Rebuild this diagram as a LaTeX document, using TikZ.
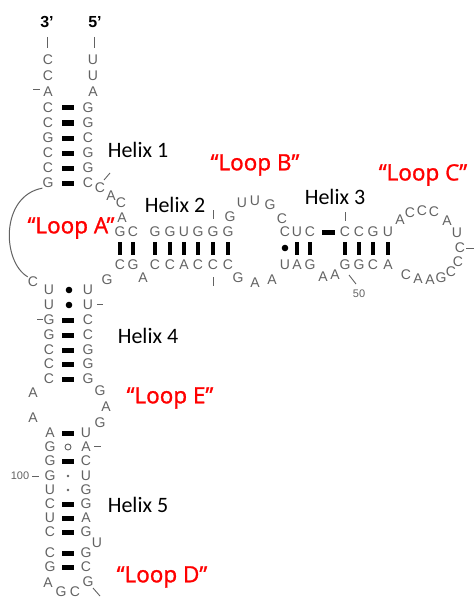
\documentclass[tikz,border=0pt]{standalone}
\usepackage{fontspec}
\setmainfont{Liberation Sans}
\newfontfamily\helixfont{Carlito}
\newfontfamily\loopfont[FakeBold=1.2]{Open Sans}
\definecolor{ntgray}{HTML}{626262}
\definecolor{loopred}{HTML}{FF0000}
\begin{document}
\begin{tikzpicture}[x=1pt,y=-1pt,
  nt/.style={font=\fontsize{14}{14}\selectfont, text=ntgray, inner sep=0pt},
  num/.style={font=\fontsize{11}{11}\selectfont, text=ntgray, inner sep=0pt},
  endlbl/.style={font=\bfseries\fontsize{16}{16}\selectfont, text=black, inner sep=0pt},
  hx/.style={font=\helixfont\fontsize{22}{22}\selectfont, text=black, inner sep=0pt},
  lp/.style={font=\loopfont\fontsize{22.5}{22.5}\selectfont, text=loopred, inner sep=0pt},
  tickln/.style={draw=ntgray, line width=0.9pt},
  hbar/.style={fill=black},
  bigdot/.style={fill=black},
  smalldot/.style={fill=ntgray},
  opendot/.style={draw=ntgray, line width=0.9pt},
  arcln/.style={draw=ntgray, line width=1pt}]
\useasboundingbox (0,0) rectangle (475,599);

% ends
\node[endlbl] (e3) at (47,22) {3'};
\node[endlbl] (e5) at (95,22) {5'};
\draw[tickln] (47,37) -- (47,48);
\draw[tickln] (94,37) -- (94,48);

% single strands at top
\node[nt] (t3a) at (48,60) {C};
\node[nt] (t3b) at (48,76) {C};
\node[nt] (t3c) at (48,92) {A};
\draw[tickln] (33,89) -- (40,89);
\node[nt] (t5a) at (93,60) {U};
\node[nt] (t5b) at (93,76) {U};
\node[nt] (t5c) at (93,92) {A};

% Helix 1
\foreach \y/\l/\r [count=\i] in {108/C/G,123/C/G,138/G/C,153/C/G,168/C/G,183/G/C}{
  \node[nt] (hAL\i) at (48,\y) {\l};
  \node[nt] (hAR\i) at (88,\y) {\r};
  \fill[hbar] (62,{\y-2.5}) rectangle (74,{\y+2.5});
}

% junction
\node[nt] (j1) at (100,188) {C};
\draw[tickln] (104,180) -- (110,173);
\node[nt] (j2) at (111,196) {A};
\node[nt] (j3) at (121,203) {C};
\node[nt] (j4) at (122,218) {A};

% Helix 2
\foreach \x/\t/\b [count=\i] in {120/G/C,133/C/G,155/G/C,170/G/C,184/U/A,198/G/C,213/G/C,228/G/C}{
  \node[nt] (hBT\i) at (\x,232) {\t};
  \node[nt] (hBB\i) at (\x,265) {\b};
  \fill[hbar] ({\x-2},241.5) rectangle ({\x+2},254.5);
}
\node[nt] (b2a) at (143,278) {A};
\draw[tickln] (213,210) -- (213,219);
\draw[tickln] (213,277) -- (213,286);

% Loop B
\node[nt] (lb1) at (230,217) {G};
\node[nt] (lb2) at (242,203) {U};
\node[nt] (lb3) at (255,201) {U};
\node[nt] (lb4) at (270,205) {G};
\node[nt] (lb5) at (282,219) {C};
\node[nt] (lb6) at (238,278) {G};
\node[nt] (lb7) at (255,283) {A};
\node[nt] (lb8) at (272,280) {A};

% Helix 3
\foreach \x/\t/\b [count=\i] in {285/C/U,297/U/A,310/C/G,345/C/G,359/C/G,373/G/C,388/U/A}{
  \node[nt] (hCT\i) at (\x,232) {\t};
  \node[nt] (hCB\i) at (\x,265) {\b};
}
\fill[bigdot] (285,248) circle (3.3);
\foreach \x in {297,310,345,359,373,388}{
  \fill[hbar] ({\x-2},241.5) rectangle ({\x+2},254.5);
}
\fill[hbar] (322,229.5) rectangle (335,234.5);
\node[nt] (b3a) at (323,277) {A};
\node[nt] (b3b) at (335,275) {A};
\draw[tickln] (345,212) -- (345,221);
\draw[tickln] (349,275) -- (356,284);
\node[num] (n50) at (359,294) {50};

% Loop C
\node[nt] (lc1) at (400,220) {A};
\node[nt] (lc2) at (410,213) {C};
\node[nt] (lc3) at (422,211) {C};
\node[nt] (lc4) at (434,212) {C};
\node[nt] (lc5) at (447,221) {A};
\node[nt] (lc6) at (457,233) {U};
\node[nt] (lc7) at (460,248) {C};
\draw[tickln] (466,248) -- (474,248);
\node[nt] (lc8) at (458,262) {C};
\node[nt] (lc9) at (451,272) {C};
\node[nt] (lc10) at (441,278) {G};
\node[nt] (lc11) at (430,280) {A};
\node[nt] (lc12) at (418,279) {A};
\node[nt] (lc13) at (406,275) {C};

% Loop A
\node[nt] (la1) at (33,282) {C};
\node[nt] (la2) at (107,280) {G};
\draw[arcln] (hAL6.south west) .. controls (0,196) and (2,262) .. (la1.north west);

% Helix 4
\foreach \y/\l/\r [count=\i] in {290/U/U,305/U/U,320/G/C,335/G/C,350/C/G,364/C/G,379/C/G}{
  \node[nt] (hDL\i) at (49,\y) {\l};
  \node[nt] (hDR\i) at (88,\y) {\r};
}
\fill[bigdot] (69,290) circle (3.3);
\fill[bigdot] (69,305) circle (3.3);
\foreach \y in {320,335,350,364,379}{
  \fill[hbar] (62,{\y-2.5}) rectangle (74,{\y+2.5});
}
\draw[tickln] (97,304) -- (103,304);
\draw[tickln] (37,319) -- (43,319);

% Loop E
\node[nt] (le1) at (33,393) {A};
\node[nt] (le2) at (33,418) {A};
\node[nt] (le3) at (100,391) {G};
\node[nt] (le4) at (106,407) {A};
\node[nt] (le5) at (100,423) {G};

% Helix 5
\foreach \y/\l/\r [count=\i] in {433/A/U,447/G/A,461/G/C,476/G/U,490/U/G,504/C/G,518/U/A,532/C/G,553/C/G,567/G/C}{
  \node[nt] (hEL\i) at (50,\y) {\l};
  \node[nt] (hER\i) at (86,\y) {\r};
}
\foreach \y in {433,461,504,518,532,553,567}{
  \fill[hbar] (62,{\y-2.5}) rectangle (74,{\y+2.5});
}
\draw[opendot] (68,447) circle (3);
\fill[smalldot] (68,476) circle (1.4);
\fill[smalldot] (68,490) circle (1.4);
\draw[tickln] (94,446) -- (101,446);
\node[num] (n100) at (20,476) {100};
\draw[tickln] (32,476) -- (39,476);
\node[nt] (b5a) at (97,543) {U};

% Loop D
\node[nt] (ld1) at (48,583) {A};
\node[nt] (ld2) at (61,592) {G};
\node[nt] (ld3) at (75,592) {C};
\node[nt] (ld4) at (88,582) {G};
\draw[tickln] (93,588) -- (100,596);

% Helix labels
\node[hx] (lh1) at (138,150) {Helix 1};
\node[hx] (lh2) at (175,205) {Helix 2};
\node[hx] (lh3) at (335,197) {Helix 3};
\node[hx] (lh4) at (148,336) {Helix 4};
\node[hx] (lh5) at (138,505) {Helix 5};

% Loop labels
\node[lp] (llA) at (71,228) {“Loop A”};
\node[lp] (llB) at (255,165) {“Loop B”};
\node[lp] (llC) at (423,175) {“Loop C”};
\node[lp] (llE) at (170,398) {“Loop E”};
\node[lp] (llD) at (162,577) {“Loop D”};
\end{tikzpicture}
\end{document}
